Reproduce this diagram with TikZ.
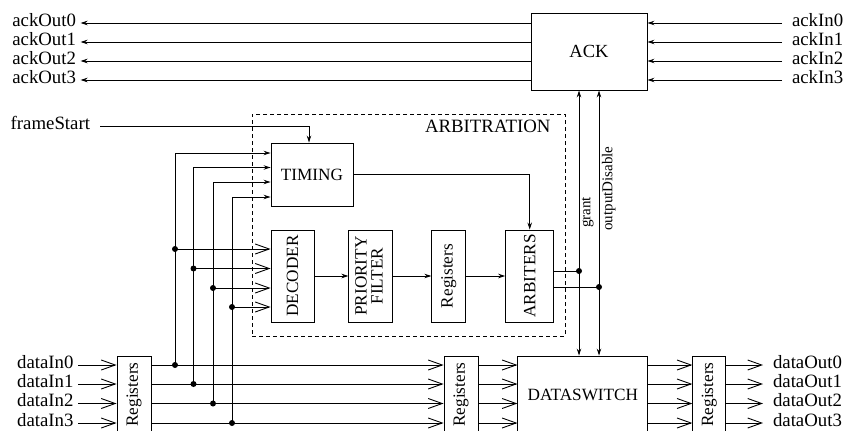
\documentclass[tikz,border=0pt]{standalone}
\usepackage{fontspec}
\setmainfont{Liberation Serif}
\usetikzlibrary{arrows.meta,positioning}
\tikzset{
  sig/.style={-{Stealth[length=7pt,width=4.5pt]},line width=0.9pt},
  sigboth/.style={{Stealth[length=7pt,width=4.5pt]}-{Stealth[length=7pt,width=4.5pt]},line width=0.9pt},
  bus/.style={-{Straight Barb[length=14pt,width=10pt,line width=0.9pt]},line width=0.9pt},
  blk/.style={draw,line width=0.9pt,inner sep=0pt,font=\fontsize{17.2}{19}\selectfont},
  frame/.style={draw,dash pattern=on 4pt off 3pt,line width=0.8pt},
  lbl/.style={inner sep=0pt,outer xsep=4.5pt,text height=0.68em,text depth=0pt,
    font=\fontsize{18.8}{22}\selectfont},
  farlbl/.style={lbl,outer xsep=10pt},
  dot/.style={circle,fill,inner sep=0pt,minimum size=6pt},
  vlbl/.style={rotate=90,inner sep=0pt,outer sep=3pt,font=\fontsize{15}{18}\selectfont}
}

\begin{document}
\begin{tikzpicture}[x=1pt,y=-1pt]
  \useasboundingbox (0,0) rectangle (846,431);
  % ack block and its ports
  \node[blk,minimum width=116pt,minimum height=77pt,font=\fontsize{18.5}{22}\selectfont] (ack) at (589,51.5) {ACK};
  \foreach \i/\y in {0/23,1/42,2/61,3/80}{
    \node[lbl,anchor=east] (aout\i) at (80.5,\y) {ackOut\i};
    \draw[sig] (ack.west |- aout\i.east) -- (aout\i.east);
    \node[farlbl,anchor=west] (ain\i) at (782,\y) {ackIn\i};
    \draw[sig] (ain\i.west) -- (ack.east |- ain\i.west);
  }

  % arbitration
  \node[frame,minimum width=313pt,minimum height=222pt] (arbit) at (408.5,225) {};
  \node[lbl,anchor=north east,outer sep=0pt] (arbtitle) at ([xshift=-15pt,yshift=-12pt]arbit.north east) {ARBITRATION};
  \node[blk,minimum width=82pt,minimum height=63pt] (timing) at (312,174.5) {TIMING};
  \node[blk,minimum width=43pt,minimum height=92pt] (decoder) at (292.5,276) {\rotatebox{90}{DECODER}};
  \node[blk,minimum width=44pt,minimum height=92pt,right=34pt of decoder] (prio)
    {\rotatebox{90}{\begin{tabular}{@{}c@{}}PRIORITY\\[-3pt]FILTER\end{tabular}}};
  \node[blk,minimum width=34pt,minimum height=92pt,right=38pt of prio] (regarb) {\rotatebox{90}{Registers}};
  \node[blk,minimum width=48pt,minimum height=92pt,right=39pt of regarb] (arbiters) {\rotatebox{90}{ARBITERS}};
  \draw[sig] (decoder) -- (prio);
  \draw[sig] (prio) -- (regarb);
  \draw[sig] (regarb) -- (arbiters);
  \draw[sig] (timing.east) -| (arbiters.north);

  \node[farlbl,anchor=east] (fstart) at (100,126) {frameStart};
  \draw[sig] (fstart.east) -| ([xshift=-3pt]timing.north);

  % data path
  \node[blk,minimum width=34pt,minimum height=77pt] (regin) at (134,394.5) {\rotatebox{90}{Registers}};
  \node[blk,minimum width=34pt,minimum height=77pt] (regmid) at (461,394.5) {\rotatebox{90}{Registers}};
  \node[blk,minimum width=130pt,minimum height=77pt,right=39pt of regmid] (switch) {DATASWITCH};
  \node[blk,minimum width=33pt,minimum height=77pt,right=44pt of switch] (regout) {\rotatebox{90}{Registers}};

  \foreach \i/\y/\tx/\ty/\dy in {0/365/175/153/249,1/384/193.5/167.5/268.5,2/403.5/213/182/288,3/423/232/197/307}{
    \node[lbl,anchor=east] (din\i) at (78,\y) {dataIn\i};
    \node[farlbl,anchor=west] (dout\i) at (763,\y) {dataOut\i};
    \coordinate (tap\i) at (\tx,\y);
    \coordinate (br\i) at (\tx,\dy);
    \draw[bus] (din\i.east) -- (regin.west |- din\i.east);
    \draw[bus] (regin.east |- tap\i) -- (regmid.west |- tap\i);
    \draw[bus] (regmid.east |- tap\i) -- (switch.west |- tap\i);
    \draw[bus] (switch.east |- tap\i) -- (regout.west |- tap\i);
    \draw[bus] (regout.east |- dout\i.west) -- (dout\i.west);
    \draw[sig] (tap\i) |- (timing.west |- 0,\ty);
    \draw[bus] (br\i) -- (decoder.west |- br\i);
    \node[dot] at (tap\i) {};
    \node[dot] at (br\i) {};
  }

  % grant and outputDisable
  \coordinate (gnt) at (579,271);
  \coordinate (odis) at (599,287);
  \draw[sigboth] (ack.south -| gnt) -- node[vlbl,anchor=north,pos=0.46] {grant} (switch.north -| gnt);
  \draw[sigboth] (ack.south -| odis) -- node[vlbl,anchor=north,pos=0.37] {outputDisable} (switch.north -| odis);
  \draw[line width=0.9pt] (arbiters.east |- gnt) -- (gnt);
  \draw[line width=0.9pt] (arbiters.east |- odis) -- (odis);
  \node[dot] at (gnt) {};
  \node[dot] at (odis) {};
\end{tikzpicture}
\end{document}
